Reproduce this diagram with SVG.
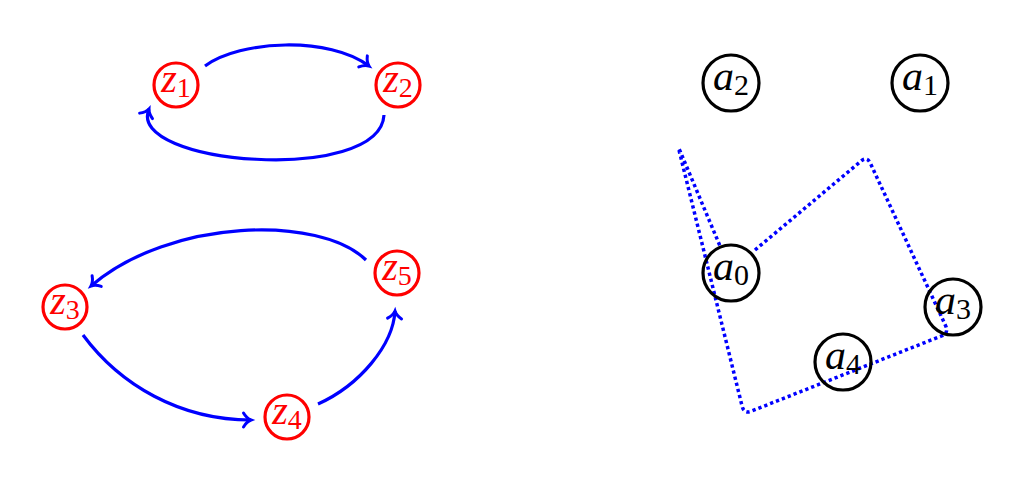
<svg xmlns="http://www.w3.org/2000/svg" width="1024" height="483" viewBox="0 0 1024 483">
<style>
.rn{fill:#fff;stroke:#ff0000;stroke-width:3.2}
.bn{fill:none;stroke:#000;stroke-width:3.2}
.rt{fill:#ff0000;font-family:'Liberation Serif','Times New Roman',serif;font-size:40px;text-anchor:middle}
.bt{fill:#000;font-family:'Liberation Serif','Times New Roman',serif;font-size:42px;text-anchor:middle}
.it{font-style:italic}
.arr{fill:none;stroke:#0000ff;stroke-width:3.2;marker-end:url(#to)}
.dot{fill:none;stroke:#0000ff;stroke-width:3.5;stroke-dasharray:3.3 3}
</style>
<defs>
<marker id="to" markerUnits="userSpaceOnUse" markerWidth="20" markerHeight="20" refX="0" refY="0" viewBox="-10 -10 20 20" orient="auto" overflow="visible">
<path d="M-7.5,-7 C-5,-2.8 -1.6,-0.6 0,0 C-1.6,0.6 -5,2.8 -7.5,7" fill="none" stroke="#0000ff" stroke-width="3" stroke-linecap="round"/>
</marker>
</defs>
<g id="connectors">
<path class="arr" d="M205,66 C240,40 330,36 369,66"/>
<path class="arr" d="M384,115 C380,185 125,165 149,109"/>
<path class="arr" d="M366,260 C320,215 170,218 91,286"/>
<path class="arr" d="M83,335 C120,385 180,420 251,420"/>
<path class="arr" d="M318,404 C360,385 393,345 395,311"/>
<path class="dot" d="M755,250 L860.9,161.2 Q867,156 870.4,163.3 L945.6,325.7 Q949,333 941.6,335.9 L751.4,411.1 Q744,414 742.1,406.2 L679.2,150.9 Q678,146 679.9,150.6 L720,246"/>
</g>
<g id="z1"><circle class="rn" cx="176" cy="85" r="22"/><text class="rt" x="176" y="92"><tspan class="it">z</tspan><tspan font-size="28" dy="5">1</tspan></text></g>
<g id="z2"><circle class="rn" cx="398" cy="85" r="22"/><text class="rt" x="398" y="92"><tspan class="it">z</tspan><tspan font-size="28" dy="5">2</tspan></text></g>
<g id="z3"><circle class="rn" cx="65" cy="307" r="22"/><text class="rt" x="65" y="314"><tspan class="it">z</tspan><tspan font-size="28" dy="5">3</tspan></text></g>
<g id="z4"><circle class="rn" cx="287" cy="417" r="22"/><text class="rt" x="287" y="424"><tspan class="it">z</tspan><tspan font-size="28" dy="5">4</tspan></text></g>
<g id="z5"><circle class="rn" cx="397" cy="273" r="22"/><text class="rt" x="397" y="280"><tspan class="it">z</tspan><tspan font-size="28" dy="5">5</tspan></text></g>
<g id="a2"><circle class="bn" cx="731" cy="83" r="28"/><text class="bt" x="731" y="90"><tspan class="it">a</tspan><tspan font-size="30" dy="5">2</tspan></text></g>
<g id="a1"><circle class="bn" cx="920" cy="83" r="28"/><text class="bt" x="920" y="90"><tspan class="it">a</tspan><tspan font-size="30" dy="5">1</tspan></text></g>
<g id="a0"><circle class="bn" cx="731" cy="273" r="28"/><text class="bt" x="731" y="280"><tspan class="it">a</tspan><tspan font-size="30" dy="5">0</tspan></text></g>
<g id="a3"><circle class="bn" cx="953" cy="307" r="28"/><text class="bt" x="953" y="314"><tspan class="it">a</tspan><tspan font-size="30" dy="5">3</tspan></text></g>
<g id="a4"><circle class="bn" cx="843" cy="362" r="28"/><text class="bt" x="843" y="369"><tspan class="it">a</tspan><tspan font-size="30" dy="5">4</tspan></text></g>
</svg>
